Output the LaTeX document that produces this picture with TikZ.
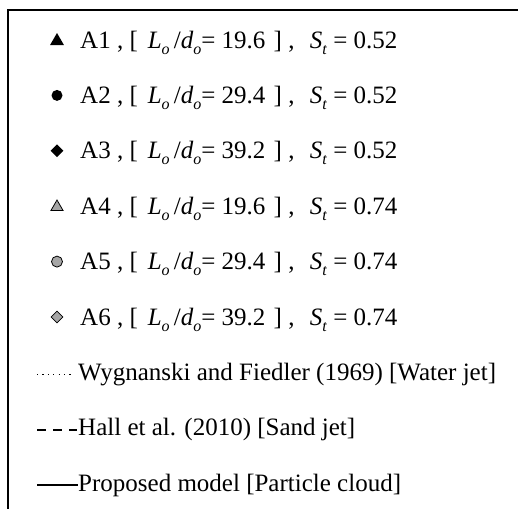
\documentclass[tikz,border=0pt]{standalone}
\usepackage{fontspec}
\setmainfont{Liberation Serif}
\usetikzlibrary{shapes.geometric}
\definecolor{MarkGray}{RGB}{166,166,166}
\newcommand{\subit}[1]{\raisebox{-6pt}{\fontsize{16}{16}\selectfont\textit{#1}}}
\newcommand{\caselabel}[3]{#1 , [\hspace{10pt}\textit{L}\subit{o}\,/\textit{d}\subit{o}= #2\hspace{2pt} ] , \hspace{9pt}\textit{S}\subit{t} = #3}
\tikzset{
  frame/.style={line width=1.3pt,draw=black},
  tri/.style={regular polygon,regular polygon sides=3,inner sep=0pt,minimum size=16pt,fill=black},
  dot/.style={circle,inner sep=0pt,minimum size=11pt,fill=black},
  dia/.style={diamond,inner sep=0pt,minimum size=13pt,fill=black},
  hollow/.style={fill=MarkGray,draw=black,line width=0.8pt},
  lbl/.style={anchor=base west,inner sep=0pt,font=\fontsize{25}{30}\selectfont},
  dotline/.style={line width=1.2pt,dash pattern=on 1.2pt off 4.2pt},
  dashline/.style={line width=1.8pt,dash pattern=on 8.5pt off 7.5pt},
  solidline/.style={line width=1.8pt}
}
\begin{document}
\begin{tikzpicture}[x=1pt,y=1pt]
  \useasboundingbox (0,0) rectangle (518,-509);
  % frame of the legend box
  \coordinate (tr) at (518,-10);
  \coordinate (tl) at (8,-10);
  \coordinate (bl) at (8,-509);
  \draw[frame] (tr)--(tl)--(bl);
  % markers
  \node[tri] (m1) at (57,-41) {};
  \node[dot] (m2) at (57,-95.4) {};
  \node[dia] (m3) at (57,-150.8) {};
  \node[tri,hollow,minimum size=14pt] (m4) at (57,-207) {};
  \node[dot,hollow,minimum size=11pt] (m5) at (57,-261.6) {};
  \node[dia,hollow,minimum size=12pt] (m6) at (57,-317) {};
  \node[lbl] (l1) at (80,-48) {\caselabel{A1}{19.6}{0.52}};
  \node[lbl] (l2) at (80,-103.4) {\caselabel{A2}{29.4}{0.52}};
  \node[lbl] (l3) at (80,-158.8) {\caselabel{A3}{39.2}{0.52}};
  \node[lbl] (l4) at (80,-214.2) {\caselabel{A4}{19.6}{0.74}};
  \node[lbl] (l5) at (80,-269.6) {\caselabel{A5}{29.4}{0.74}};
  \node[lbl] (l6) at (80,-325) {\caselabel{A6}{39.2}{0.74}};
  % line samples
  \coordinate (w0) at (37,-374.5);
  \coordinate (w1) at (74,-374.5);
  \draw[dotline] (w0)--(w1);
  \node[lbl] (l7) at (78,-380.4) {Wygnanski and Fiedler (1969) [Water jet]};
  \coordinate (h0) at (37,-429.8);
  \coordinate (h1) at (77,-429.8);
  \draw[dashline] (h0)--(h1);
  \node[lbl] (l8) at (78,-435.8) {Hall et al. (2010) [Sand jet]};
  \coordinate (p0) at (37,-485.2);
  \coordinate (p1) at (78,-485.2);
  \draw[solidline] (p0)--(p1);
  \node[lbl] (l9) at (78,-491.2) {Proposed model [Particle cloud]};
\end{tikzpicture}
\end{document}
